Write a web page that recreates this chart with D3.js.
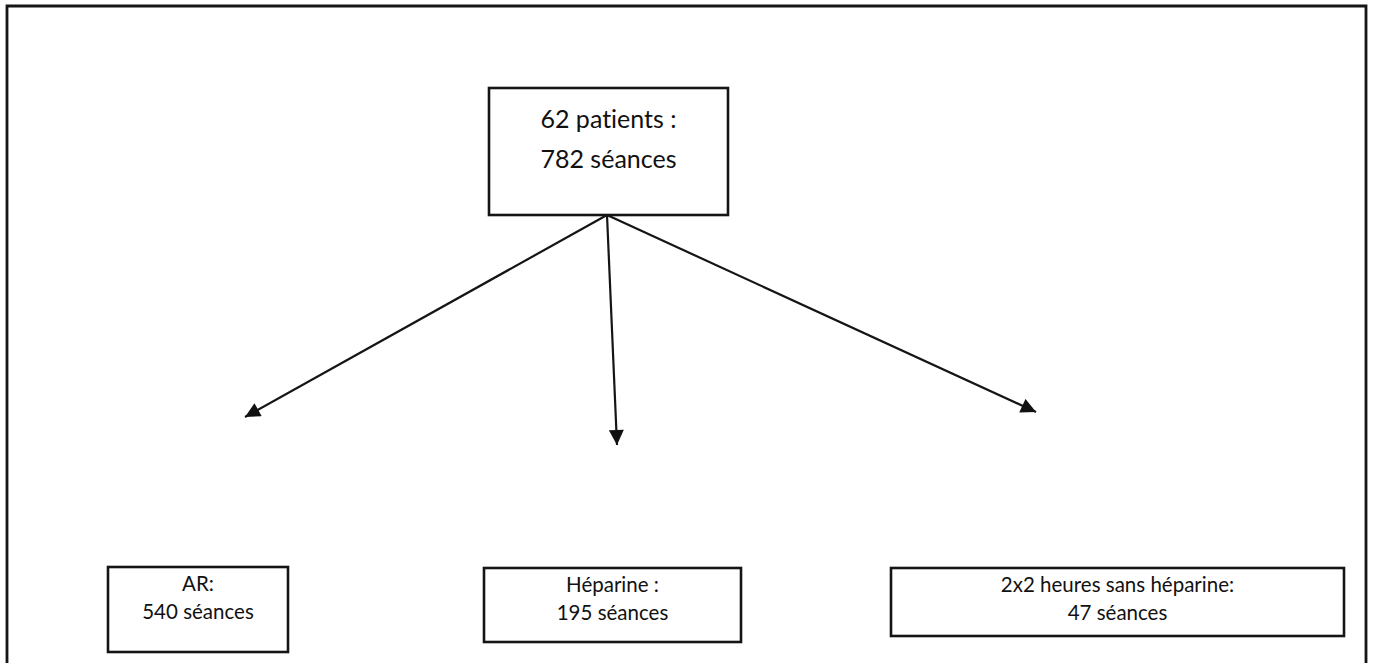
<!DOCTYPE html>
<html>
<head>
<meta charset="utf-8">
<script src="https://cdn.jsdelivr.net/npm/d3@7"></script>
<style>
  html, body { margin: 0; padding: 0; background: #fff; }
  svg { display: block; }
  text { font-family: Lato, "Open Sans", sans-serif; fill: #111; font-variant-ligatures: none; }
</style>
</head>
<body>
<svg id="chart" width="1373" height="663"></svg>
<script>
// ---- data ----
const rootLines = ["62 patients :", "782 séances"];
const childNames = ["AR:", "Héparine :", "2x2 heures sans héparine:"];
const childCounts = [540, 195, 47];
const countUnit = "séances";

// ---- layout (geometry only) ----
const W = 1373, H = 663;
const rootBox = { x0: 489, y0: 88, x1: 728, y1: 215, lineY: [128, 168] };
const childBoxes = [
  { x0: 108, y0: 567, x1: 288, y1: 652 },
  { x0: 484, y0: 568, x1: 741, y1: 642 },
  { x0: 891, y0: 568, x1: 1344, y1: 636 }
];
const arrowTips = [[245, 417], [617, 445], [1036, 412]];
const arrowOrigin = [607, 215];

const svg = d3.select("#chart");
const stroke = "#151515";

// outer frame (open at the bottom)
svg.append("path")
  .attr("d", d3.line()([[7, H], [7, 6], [1366, 6], [1366, H]]))
  .attr("fill", "none").attr("stroke", stroke).attr("stroke-width", 2.8);

// arrowhead marker
svg.append("defs").append("marker")
  .attr("id", "arrow")
  .attr("viewBox", "0 0 10 10")
  .attr("refX", 10).attr("refY", 5)
  .attr("markerWidth", 17).attr("markerHeight", 15)
  .attr("markerUnits", "userSpaceOnUse")
  .attr("orient", "auto")
  .append("path").attr("d", "M0,0L10,5L0,10Z").attr("fill", "#111");

// root box
svg.append("rect")
  .attr("x", rootBox.x0).attr("y", rootBox.y0)
  .attr("width", rootBox.x1 - rootBox.x0).attr("height", rootBox.y1 - rootBox.y0)
  .attr("fill", "#fff").attr("stroke", stroke).attr("stroke-width", 2.6);

svg.selectAll("text.root").data(rootLines).join("text")
  .attr("class", "root")
  .attr("x", (rootBox.x0 + rootBox.x1) / 2)
  .attr("y", (d, i) => rootBox.lineY[i])
  .attr("text-anchor", "middle")
  .attr("font-size", 25)
  .text(d => d);

// arrows
svg.selectAll("line.link").data(arrowTips).join("line")
  .attr("class", "link")
  .attr("x1", arrowOrigin[0]).attr("y1", arrowOrigin[1])
  .attr("x2", d => d[0]).attr("y2", d => d[1])
  .attr("stroke", stroke).attr("stroke-width", 2.2)
  .attr("marker-end", "url(#arrow)");

// child boxes
const children = childNames.map((n, i) => ({ name: n, count: childCounts[i], box: childBoxes[i] }));
const g = svg.selectAll("g.child").data(children).join("g").attr("class", "child");
g.append("rect")
  .attr("x", d => d.box.x0).attr("y", d => d.box.y0)
  .attr("width", d => d.box.x1 - d.box.x0).attr("height", d => d.box.y1 - d.box.y0)
  .attr("fill", "#fff").attr("stroke", stroke).attr("stroke-width", 2.6);
g.append("text")
  .attr("x", d => (d.box.x0 + d.box.x1) / 2)
  .attr("y", d => d.box.y0 + 23.5)
  .attr("text-anchor", "middle").attr("font-size", 20.5)
  .text(d => d.name);
g.append("text")
  .attr("x", d => (d.box.x0 + d.box.x1) / 2)
  .attr("y", d => d.box.y0 + 51.5)
  .attr("text-anchor", "middle").attr("font-size", 20.5)
  .text(d => `${d.count} ${countUnit}`);
</script>
</body>
</html>
